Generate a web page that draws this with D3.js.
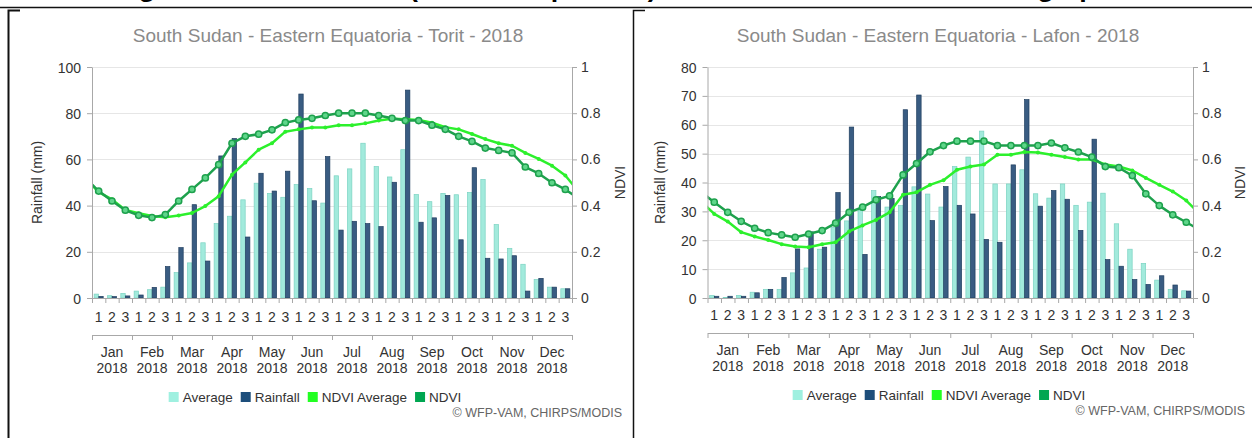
<!DOCTYPE html>
<html>
<head>
<meta charset="utf-8">
<script src="https://cdn.jsdelivr.net/npm/d3@7"></script>
<style>
  html, body { margin: 0; padding: 0; background: #fff; }
  svg { display: block; font-family: "Liberation Sans", Arial, sans-serif; }
</style>
</head>
<body>
<svg id="chart" width="1252" height="438"></svg>
<script>
// ---------------- data ----------------
const dekadLabels = ["1", "2", "3"];
const months = ["Jan", "Feb", "Mar", "Apr", "May", "Jun", "Jul", "Aug", "Sep", "Oct", "Nov", "Dec"];
const yearLabel = "2018";
const legendLabels = ["Average", "Rainfall", "NDVI Average", "NDVI"];
const ndviTicks = [0, 0.2, 0.4, 0.6, 0.8, 1];
const toritRainTicks = [0, 20, 40, 60, 80, 100];
const lafonRainTicks = [0, 10, 20, 30, 40, 50, 60, 70, 80];

const toritAverage = [1.7, 1.0, 2.0, 3.0, 3.6, 4.7, 11.0, 15.2, 23.9, 32.2, 35.4, 42.5, 49.7, 45.3, 43.6, 49.1, 47.4, 41.1,
  52.9, 55.9, 67.0, 56.9, 52.4, 64.2, 44.8, 41.7, 45.3, 44.7, 45.7, 51.3, 31.8, 21.5, 14.6, 8.0, 4.7, 4.0];
const toritRainfall = [0.7, 0.6, 0.9, 1.3, 4.6, 13.6, 21.8, 40.4, 16.0, 61.5, 69.0, 26.4, 54.0, 46.3, 54.9, 88.3, 42.1, 61.2,
  29.4, 33.2, 32.2, 30.9, 50.1, 90.0, 32.8, 34.7, 44.4, 25.2, 56.4, 17.2, 16.9, 18.3, 3.0, 8.5, 4.7, 4.0];
const toritNdviAverage = [0.458, 0.427, 0.381, 0.367, 0.355, 0.35, 0.357, 0.368, 0.398, 0.441, 0.534, 0.587, 0.642, 0.67, 0.72, 0.73, 0.738, 0.738,
  0.748, 0.748, 0.756, 0.768, 0.776, 0.774, 0.771, 0.759, 0.739, 0.73, 0.71, 0.688, 0.67, 0.659, 0.628, 0.602, 0.573, 0.53];
const toritNdvi = [0.463, 0.42, 0.38, 0.358, 0.348, 0.361, 0.42, 0.47, 0.52, 0.577, 0.67, 0.70, 0.709, 0.728, 0.759, 0.771, 0.778, 0.79,
  0.80, 0.80, 0.80, 0.79, 0.778, 0.768, 0.768, 0.748, 0.73, 0.70, 0.678, 0.649, 0.639, 0.628, 0.567, 0.539, 0.499, 0.47];
// neighbouring dekads outside the year (previous Dec 3, next Jan 1), clipped by the plot
const toritNdviAverageEdges = [0.52, 0.46];
const toritNdviEdges = [0.52, 0.43];

const lafonAverage = [0.9, 0.2, 0.9, 2.0, 3.0, 3.0, 8.7, 10.4, 16.9, 24.4, 26.7, 30.5, 37.2, 31.5, 32.0, 38.5, 36.0, 31.5,
  45.5, 48.8, 57.8, 39.5, 39.5, 44.4, 36.1, 34.6, 39.5, 32.1, 33.2, 36.3, 25.7, 16.9, 12.0, 6.2, 3.0, 2.5];
const lafonRainfall = [0.6, 0.6, 0.6, 1.8, 3.0, 7.1, 17.0, 22.9, 17.6, 36.5, 59.2, 15.1, 35.1, 34.5, 65.2, 70.3, 26.8, 38.6,
  32.1, 29.1, 20.3, 19.3, 46.1, 68.7, 31.8, 37.2, 34.2, 23.4, 55.0, 13.3, 11.0, 6.4, 4.7, 7.7, 4.5, 2.4];
const lafonNdviAverage = [0.364, 0.331, 0.285, 0.266, 0.251, 0.233, 0.223, 0.22, 0.233, 0.241, 0.288, 0.314, 0.338, 0.371, 0.447, 0.458, 0.49, 0.51,
  0.555, 0.569, 0.578, 0.62, 0.62, 0.632, 0.63, 0.62, 0.61, 0.60, 0.60, 0.578, 0.569, 0.552, 0.52, 0.49, 0.461, 0.422];
const lafonNdvi = [0.415, 0.371, 0.332, 0.302, 0.283, 0.273, 0.263, 0.277, 0.292, 0.324, 0.371, 0.393, 0.425, 0.442, 0.533, 0.582, 0.633, 0.66,
  0.679, 0.679, 0.679, 0.66, 0.66, 0.66, 0.66, 0.671, 0.65, 0.632, 0.61, 0.569, 0.564, 0.53, 0.451, 0.40, 0.36, 0.328];
const lafonNdviAverageEdges = [0.42, 0.364];
const lafonNdviEdges = [0.46, 0.294];

const pageHeading = "Figure 3: South Sudan (Eastern Equatoria) - Seasonal Rainfall and NDVI graphs";
const copyright = "\u00A9 WFP-VAM, CHIRPS/MODIS";

// ---------------- styles ----------------
const C = {
  avg: "#a2eadc", avgStroke: "#7bd3c2",
  rain: "#395c82", rainStroke: "#1f3e5f",
  ndviAvg: "#2cf02c", ndvi: "#1ea14d", ndviFill: "#5fd68a",
  legAvg: "#9ff0e0", legRain: "#1d4e7b", legNdviAvg: "#22ff22", legNdvi: "#00a651",
  grid: "#e6e6e6", axis: "#a8a8a8", text: "#333", title: "#8a8a8a"
};

const svg = d3.select("#chart");

// page frame pieces
const frame = svg.append("g").attr("stroke", "#111").attr("fill", "none");
frame.append("line").attr("x1", 0).attr("x2", 1252).attr("y1", 7.5).attr("y2", 7.5).attr("stroke-width", 1.5);
frame.append("path").attr("d", "M20,10.5H8.5V438").attr("stroke-width", 2);
frame.append("path").attr("d", "M645,10.5H633.5V438").attr("stroke-width", 1.5);

svg.append("text").attr("x", 115).attr("y", -3)
  .attr("textLength", 1012).attr("lengthAdjust", "spacingAndGlyphs")
  .attr("font-weight", "bold").attr("font-size", 23)
  .attr("fill", "#000").text(pageHeading);

let clipId = 0;
function drawChart(o) {
  const g = svg.append("g");
  const top = 67, bottom = 298;
  const s = o.shift;
  const yRain = d3.scaleLinear().domain([0, o.rainTicks[o.rainTicks.length - 1]]).range([bottom, top]);
  const yNdvi = d3.scaleLinear().domain([0, 1]).range([bottom, top]);
  const xBand = d3.scaleBand().domain(d3.range(36)).range([o.x0, o.x1]).paddingInner(0.32).paddingOuter(0.16);
  const xSub = d3.scaleBand().domain(["avg", "rain"]).range([0, xBand.bandwidth()]).paddingInner(0.06);
  const xLin = d3.scaleLinear().domain([-0.5, 35.5]).range([o.x0, o.x1]);
  const xEdge = d3.scaleLinear().domain([0, 36]).range([o.x0, o.x1]);
  const mEdge = d3.scaleLinear().domain([0, 12]).range([o.x0, o.x1]);
  const mBand = d3.scaleBand().domain(months).range([o.x0, o.x1]);

  // title
  g.append("text").attr("x", o.titleX).attr("y", 42).attr("text-anchor", "middle")
    .attr("font-size", 19).attr("fill", C.title).text(o.title);

  // grid
  g.append("g").selectAll("line").data(o.rainTicks).join("line")
    .attr("x1", o.x0).attr("x2", o.x1)
    .attr("y1", d => Math.round(yRain(d)) + 0.5).attr("y2", d => Math.round(yRain(d)) + 0.5)
    .attr("stroke", C.grid);

  // bars
  const bars = g.append("g");
  bars.selectAll("rect.a").data(o.avg).join("rect").attr("class", "a")
    .attr("x", (d, i) => xBand(i) + xSub("avg")).attr("width", xSub.bandwidth())
    .attr("y", d => yRain(d)).attr("height", d => bottom - yRain(d))
    .attr("fill", C.avg).attr("stroke", C.avgStroke).attr("stroke-width", 0.7);
  bars.selectAll("rect.r").data(o.rain).join("rect").attr("class", "r")
    .attr("x", (d, i) => xBand(i) + xSub("rain")).attr("width", xSub.bandwidth())
    .attr("y", d => yRain(d)).attr("height", d => bottom - yRain(d))
    .attr("fill", C.rain).attr("stroke", C.rainStroke).attr("stroke-width", 0.7);

  // lines (clipped to plot)
  const cid = "clip" + (clipId++);
  g.append("clipPath").attr("id", cid).append("rect")
    .attr("x", o.x0).attr("y", top - 10).attr("width", o.x1 - o.x0).attr("height", bottom - top + 20);
  const lg = g.append("g").attr("clip-path", `url(#${cid})`);
  const withEdges = (arr, edges) => [[-1, edges[0]]].concat(arr.map((v, i) => [i, v]), [[36, edges[1]]]);
  const line = d3.line().x(d => xLin(d[0])).y(d => yNdvi(d[1]));
  const avgPts = withEdges(o.ndviAvg, o.ndviAvgEdges);
  const ndPts = withEdges(o.ndvi, o.ndviEdges);
  lg.append("path").datum(avgPts).attr("d", line).attr("fill", "none")
    .attr("stroke", C.ndviAvg).attr("stroke-width", 2.5).attr("stroke-linejoin", "round");
  lg.selectAll("circle.ma").data(avgPts).join("circle").attr("class", "ma")
    .attr("cx", d => xLin(d[0])).attr("cy", d => yNdvi(d[1])).attr("r", 2).attr("fill", C.ndviAvg);
  lg.append("path").datum(ndPts).attr("d", line).attr("fill", "none")
    .attr("stroke", C.ndvi).attr("stroke-width", 2.5).attr("stroke-linejoin", "round");
  lg.selectAll("circle.mn").data(ndPts).join("circle").attr("class", "mn")
    .attr("cx", d => xLin(d[0])).attr("cy", d => yNdvi(d[1])).attr("r", 3.1)
    .attr("fill", C.ndviFill).attr("stroke", C.ndvi).attr("stroke-width", 1.5);

  // axes
  const styleAxis = sel => {
    sel.selectAll("path.domain").attr("stroke", C.axis);
    sel.selectAll(".tick line").attr("stroke", C.axis);
    sel.selectAll(".tick text").attr("fill", C.text).attr("font-size", 14)
      .attr("font-family", "'Liberation Sans', Arial, sans-serif");
  };
  g.append("g").attr("transform", `translate(${o.x0},0)`)
    .call(d3.axisLeft(yRain).tickValues(o.rainTicks).tickSize(5).tickSizeOuter(0).tickPadding(6))
    .call(styleAxis).selectAll(".tick text").attr("dy", "0.36em");
  g.append("g").attr("transform", `translate(${o.x1},0)`)
    .call(d3.axisRight(yNdvi).tickValues(ndviTicks).tickSize(5).tickSizeOuter(0).tickPadding(4)
      .tickFormat(d => (d === 0 || d === 1) ? String(d) : d3.format(".1f")(d)))
    .call(styleAxis);

  // dekad axis
  g.append("g").attr("transform", `translate(0,${bottom})`)
    .call(d3.axisBottom(xEdge).tickValues(d3.range(37)).tickFormat("").tickSize(5).tickSizeOuter(0))
    .call(styleAxis);
  const dk = g.append("g").attr("transform", `translate(0,${bottom})`)
    .call(d3.axisBottom(xBand).tickSize(0).tickPadding(14 + s).tickFormat(i => dekadLabels[i % 3]));
  dk.select("path.domain").remove();
  styleAxis(dk);

  // month axis
  const my = 335 + s;
  g.append("g").attr("transform", `translate(0,${my})`)
    .call(d3.axisBottom(mEdge).tickValues(d3.range(13)).tickFormat("").tickSize(5).tickSizeOuter(0))
    .call(styleAxis);
  const ml = g.append("g").selectAll("text").data(months).join("text")
    .attr("x", d => mBand(d) + mBand.bandwidth() / 2).attr("y", 357 + s)
    .attr("text-anchor", "middle").attr("font-size", 14).attr("fill", C.text);
  ml.append("tspan").text(d => d);
  ml.append("tspan").attr("x", d => mBand(d) + mBand.bandwidth() / 2).attr("dy", 16).text(yearLabel);

  // axis titles
  g.append("text").attr("transform", `translate(${o.leftTitleX},${(top + bottom) / 2}) rotate(-90)`)
    .attr("text-anchor", "middle").attr("dominant-baseline", "central")
    .attr("font-size", 14).attr("fill", C.text).text("Rainfall (mm)");
  g.append("text").attr("transform", `translate(${o.rightTitleX},${(top + bottom) / 2}) rotate(-90)`)
    .attr("text-anchor", "middle").attr("dominant-baseline", "central")
    .attr("font-size", 14).attr("fill", C.text).text("NDVI");

  // legend
  const legColors = [C.legAvg, C.legRain, C.legNdviAvg, C.legNdvi];
  const leg = g.append("g");
  let cx = 0;
  legendLabels.forEach((lab, i) => {
    const it = leg.append("g").attr("transform", `translate(${cx},0)`);
    it.append("rect").attr("x", 0).attr("y", -5).attr("width", 10).attr("height", 10).attr("fill", legColors[i]);
    const t = it.append("text").attr("x", 14).attr("y", 5).attr("font-size", 13.5).attr("fill", C.text).text(lab);
    cx += 14 + t.node().getComputedTextLength() + 8;
  });
  cx -= 8;
  leg.attr("transform", `translate(${o.legendCX - cx / 2},${397 + s})`);

  g.append("text").attr("x", o.copyX).attr("y", 417 + s).attr("text-anchor", "end")
    .attr("font-size", 12.5).attr("fill", "#666").text(copyright);
}

drawChart({
  x0: 92, x1: 572, titleX: 328, title: "South Sudan - Eastern Equatoria - Torit - 2018",
  rainTicks: toritRainTicks, avg: toritAverage, rain: toritRainfall,
  ndviAvg: toritNdviAverage, ndvi: toritNdvi, ndviAvgEdges: toritNdviAverageEdges, ndviEdges: toritNdviEdges,
  leftTitleX: 37, rightTitleX: 620, legendCX: 315, copyX: 622, shift: 0
});
drawChart({
  x0: 707.5, x1: 1193, titleX: 938, title: "South Sudan - Eastern Equatoria - Lafon - 2018",
  rainTicks: lafonRainTicks, avg: lafonAverage, rain: lafonRainfall,
  ndviAvg: lafonNdviAverage, ndvi: lafonNdvi, ndviAvgEdges: lafonNdviAverageEdges, ndviEdges: lafonNdviEdges,
  leftTitleX: 660, rightTitleX: 1240, legendCX: 939, copyX: 1245, shift: -2
});
</script>
</body>
</html>
